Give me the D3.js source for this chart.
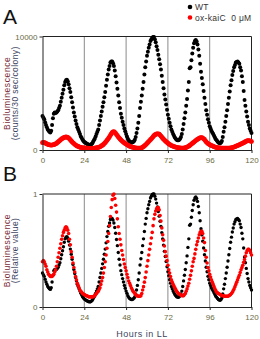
<!DOCTYPE html>
<html>
<head>
<meta charset="utf-8">
<script src="https://cdn.jsdelivr.net/npm/d3@7"></script>
<style>
  body { margin: 0; background: #fff; }
  svg { display: block; font-family: Arial, 'Liberation Sans', sans-serif; }
</style>
</head>
<body>
<div id="chart"></div>
<script>
// sampling times (hours in LL), every half hour
var hours = d3.range(0, 120.5, 0.5)

// WT bioluminescence, counts/30 sec/colony
var wtCounts = [
  3000, 2850, 2700, 2450, 2200, 2000, 1800, 1700, 1600, 1550, 1700, 2200, 2800, 3200, 3300, 3250, 3300, 3400, 3500, 3700, 3900, 4250, 4600, 4950,
  5300, 5700, 6000, 6150, 6200, 6050, 5800, 5450, 5100, 4650, 4200, 3750, 3300, 2950, 2600, 2300, 2000, 1800, 1600, 1400, 1200, 1050, 900, 800,
  700, 650, 600, 550, 500, 470, 450, 460, 500, 580, 700, 850, 1000, 1200, 1400, 1600, 1800, 2200, 2600, 3000, 3400, 3800, 4200, 4650,
  5100, 5650, 6200, 6650, 7100, 7400, 7700, 7800, 7800, 7650, 7400, 7000, 6500, 5950, 5400, 4800, 4200, 3700, 3200, 2850, 2500, 2200, 1900, 1650,
  1400, 1200, 1000, 850, 750, 700, 650, 660, 700, 780, 900, 1150, 1500, 1900, 2400, 3000, 3700, 4250, 4800, 5400, 6000, 6650, 7300, 7800,
  8300, 8650, 9000, 9300, 9600, 9750, 9900, 9950, 9950, 9750, 9500, 9150, 8800, 8400, 8000, 7550, 7100, 6550, 6000, 5450, 4900, 4450, 4000, 3550,
  3100, 2750, 2400, 2100, 1800, 1600, 1400, 1250, 1100, 1000, 900, 870, 850, 900, 1000, 1150, 1400, 1800, 2300, 2800, 3300, 3900, 4500, 5250,
  6000, 7200, 7300, 7900, 8500, 9000, 9400, 9600, 9700, 9550, 9300, 8850, 8300, 7600, 6900, 6350, 5800, 5200, 4600, 4050, 3500, 3100, 2700, 2400,
  2100, 1900, 1700, 1550, 1400, 1250, 1100, 950, 850, 750, 650, 620, 600, 650, 800, 1150, 1600, 2000, 2500, 3000, 3500, 4050, 4600, 5150,
  5700, 6150, 6600, 6950, 7300, 7500, 7700, 7750, 7800, 7700, 7600, 7300, 7000, 6500, 6000, 5200, 4400, 3900, 3400, 2950, 2500, 2200, 1900, 1700,
  1500
]

// ox-kaiC 0 uM, relative to its own maximum
var oxRelative = [
  0.40, 0.41, 0.40, 0.38, 0.36, 0.33, 0.31, 0.29, 0.28, 0.27, 0.27, 0.27, 0.28, 0.29, 0.31, 0.33, 0.36, 0.40, 0.44, 0.48, 0.52, 0.56, 0.60, 0.63,
  0.66, 0.68, 0.70, 0.71, 0.70, 0.68, 0.65, 0.60, 0.55, 0.49, 0.44, 0.39, 0.35, 0.31, 0.27, 0.24, 0.21, 0.19, 0.17, 0.15, 0.14, 0.13, 0.12, 0.115,
  0.11, 0.105, 0.10, 0.10, 0.095, 0.09, 0.09, 0.09, 0.09, 0.09, 0.09, 0.095, 0.10, 0.11, 0.12, 0.13, 0.14, 0.155, 0.17, 0.20, 0.23, 0.26, 0.30, 0.35,
  0.40, 0.46, 0.52, 0.58, 0.65, 0.72, 0.80, 0.88, 0.95, 0.99, 1.0, 0.96, 0.90, 0.84, 0.78, 0.71, 0.65, 0.60, 0.55, 0.50, 0.46, 0.42, 0.38, 0.35,
  0.32, 0.29, 0.26, 0.23, 0.21, 0.19, 0.17, 0.155, 0.14, 0.13, 0.12, 0.11, 0.10, 0.10, 0.095, 0.095, 0.095, 0.10, 0.12, 0.15, 0.18, 0.22, 0.26, 0.31,
  0.36, 0.41, 0.46, 0.51, 0.56, 0.61, 0.66, 0.72, 0.78, 0.82, 0.85, 0.87, 0.88, 0.88, 0.86, 0.81, 0.76, 0.70, 0.64, 0.59, 0.54, 0.49, 0.45, 0.41,
  0.37, 0.33, 0.30, 0.27, 0.24, 0.22, 0.20, 0.185, 0.17, 0.155, 0.14, 0.13, 0.12, 0.115, 0.11, 0.105, 0.10, 0.10, 0.10, 0.11, 0.12, 0.14, 0.16, 0.185,
  0.21, 0.245, 0.28, 0.32, 0.36, 0.40, 0.43, 0.47, 0.51, 0.55, 0.58, 0.61, 0.64, 0.66, 0.67, 0.67, 0.65, 0.61, 0.57, 0.50, 0.44, 0.39, 0.35, 0.32,
  0.29, 0.265, 0.24, 0.22, 0.20, 0.18, 0.16, 0.145, 0.13, 0.125, 0.12, 0.115, 0.11, 0.105, 0.10, 0.10, 0.10, 0.095, 0.095, 0.095, 0.095, 0.095, 0.10, 0.105,
  0.11, 0.12, 0.13, 0.145, 0.16, 0.18, 0.20, 0.22, 0.24, 0.26, 0.28, 0.305, 0.33, 0.35, 0.37, 0.395, 0.42, 0.45, 0.48, 0.50, 0.51, 0.51, 0.50, 0.48,
  0.46
]
// peak counts of ox-kaiC trace in panel A
var oxPeakCounts = 1620

var xTicks = [0, 24, 48, 72, 96, 120]
var gridHours = [24, 48, 72, 96]

var width = 260
var height = 339

var svg = d3
  .select('#chart')
  .append('svg')
  .attr('width', width)
  .attr('height', height)

var xPositionScale = d3
  .scaleLinear()
  .domain([0, 120])
  .range([42.5, 251.5])

var wtMax = d3.max(wtCounts)
var wtData = hours.map((h, i) => ({ h: h, counts: wtCounts[i], rel: wtCounts[i] / wtMax }))
var oxData = hours.map((h, i) => ({ h: h, counts: oxRelative[i] * oxPeakCounts, rel: oxRelative[i] }))

var tickColor = '#6b6b45'

function drawPanel(opts) {
  var y = d3
    .scaleLinear()
    .domain(opts.domain)
    .range([opts.bottom, opts.top])

  var g = svg.append('g')

  // vertical grid lines
  g.selectAll('.grid')
    .data(gridHours)
    .enter()
    .append('line')
    .attr('x1', d => xPositionScale(d))
    .attr('x2', d => xPositionScale(d))
    .attr('y1', opts.top)
    .attr('y2', opts.bottom)
    .attr('stroke', '#8a8a8a')
    .attr('stroke-width', 1)

  // frame (top and right)
  g.append('path')
    .attr('d', `M${xPositionScale(0)},${opts.top}H${xPositionScale(120)}V${opts.bottom}`)
    .attr('fill', 'none')
    .attr('stroke', '#222')
    .attr('stroke-width', 1)

  // dots
  g.selectAll('.wt')
    .data(wtData)
    .enter()
    .append('circle')
    .attr('cx', d => xPositionScale(d.h))
    .attr('cy', d => y(d[opts.key]))
    .attr('r', opts.rWt)
    .attr('fill', '#000')

  g.selectAll('.ox')
    .data(oxData)
    .enter()
    .append('circle')
    .attr('cx', d => xPositionScale(d.h))
    .attr('cy', d => y(d[opts.key]))
    .attr('r', opts.rOx)
    .attr('fill', '#f00')

  // axes
  var xAxis = d3.axisBottom(xPositionScale).tickValues(xTicks).tickSize(3).tickSizeOuter(0)
  g.append('g')
    .attr('class', 'axis x-axis')
    .attr('transform', `translate(0,${opts.bottom})`)
    .call(xAxis)
    .call(a => a.select('.domain').attr('stroke', '#222'))
    .call(a => a.selectAll('line').attr('stroke', '#222'))
    .call(a => a.selectAll('text').attr('fill', tickColor).attr('font-size', 8).attr('dy', '0.9em'))

  var yAxis = d3.axisLeft(y).tickValues(opts.domain).tickFormat(d3.format('d')).tickSize(3).tickSizeOuter(0)
  g.append('g')
    .attr('class', 'axis y-axis')
    .attr('transform', `translate(${xPositionScale(0)},0)`)
    .call(yAxis)
    .call(a => a.select('.domain').attr('stroke', '#222'))
    .call(a => a.selectAll('line').attr('stroke', '#222'))
    .call(a => a.selectAll('text').attr('fill', tickColor).attr('font-size', 8).attr('x', -5))

  // panel letter
  svg.append('text')
    .attr('x', 3)
    .attr('y', opts.top - 13)
    .attr('font-size', 21)
    .attr('fill', '#111')
    .text(opts.letter)

  // y title, two lines
  var mid = (opts.top + opts.bottom) / 2
  svg.append('text')
    .attr('transform', `translate(10,${mid}) rotate(-90)`)
    .attr('text-anchor', 'middle')
    .attr('font-size', 8.5)
    .attr('letter-spacing', 0.6)
    .attr('fill', '#7a2a35')
    .text('Bioluminescence')
  svg.append('text')
    .attr('transform', `translate(17.5,${mid}) rotate(-90)`)
    .attr('text-anchor', 'middle')
    .attr('font-size', 8.5)
    .attr('letter-spacing', 0.4)
    .attr('fill', '#3c4460')
    .text(opts.unit)
}

drawPanel({ letter: 'A', top: 36.5, bottom: 150, domain: [0, 10000], key: 'counts', rWt: 2, rOx: 2.4, unit: '(counts/30 sec/colony)' })
drawPanel({ letter: 'B', top: 194, bottom: 307, domain: [0, 1], key: 'rel', rWt: 1.7, rOx: 1.8, unit: '(Relative value)' })

// x title
svg.append('text')
  .attr('x', 142)
  .attr('y', 337)
  .attr('text-anchor', 'middle')
  .attr('font-size', 9)
  .attr('letter-spacing', 0.5)
  .attr('fill', '#3c4460')
  .text('Hours in LL')

// legend
var legend = [
  { label: 'WT', color: '#000' },
  { label: 'ox-kaiC\u00a0\u00a00 \u03bcM', color: '#f00' }
]
var lg = svg.selectAll('.legend')
  .data(legend)
  .enter()
  .append('g')
  .attr('transform', (d, i) => `translate(190,${7 + i * 10.5})`)
lg.append('circle').attr('r', 2.3).attr('fill', d => d.color)
lg.append('text')
  .attr('x', 5)
  .attr('y', 3)
  .attr('font-size', 8.5)
  .attr('letter-spacing', 0.3)
  .attr('fill', '#333')
  .text(d => d.label)
</script>
</body>
</html>
